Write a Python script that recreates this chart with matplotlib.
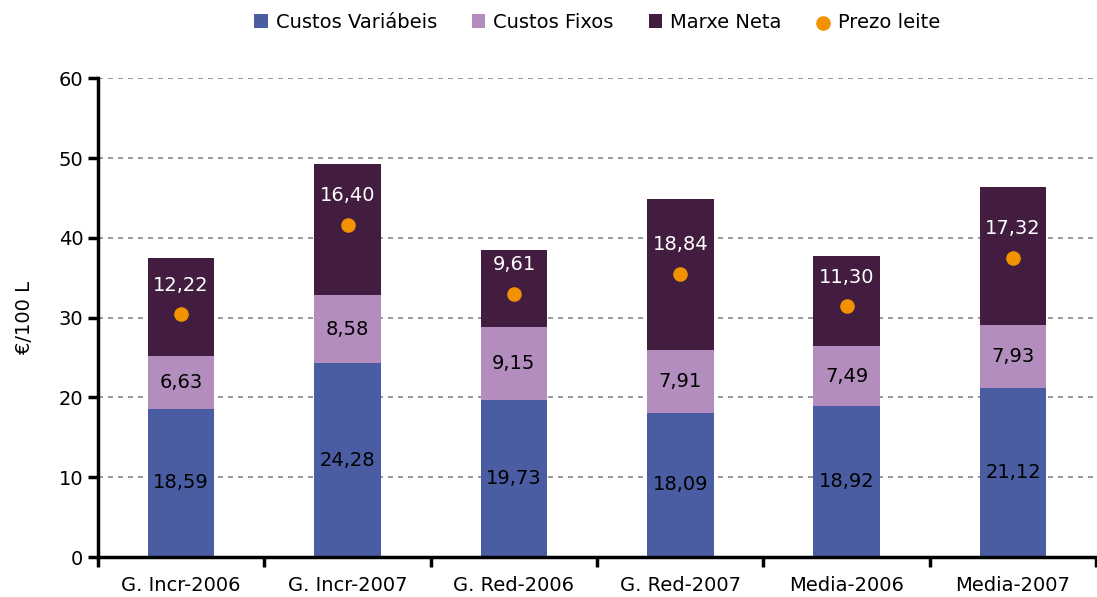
import matplotlib.pyplot as plt
import numpy as np

categories = ['G. Incr-2006', 'G. Incr-2007', 'G. Red-2006', 'G. Red-2007', 'Media-2006', 'Media-2007']
custos_variabeis = [18.59, 24.28, 19.73, 18.09, 18.92, 21.12]
custos_fixos = [6.63, 8.58, 9.15, 7.91, 7.49, 7.93]
marxe_neta = [12.22, 16.40, 9.61, 18.84, 11.30, 17.32]
prezo_leite = [30.4, 41.6, 33.0, 35.5, 31.4, 37.5]

c_var = '#4A5DA3'
c_fix = '#B28DBE'
c_mar = '#421D40'
c_pre = '#F39200'


def fmt(v):
    return ('%.2f' % v).replace('.', ',')


def main():
    plt.rcParams['font.family'] = ['DejaVu Sans']
    fs = 14

    fig = plt.figure(figsize=(10.97, 5.97), dpi=100)
    ax = fig.add_axes([0.0893, 0.067, 0.91, 0.802])

    x = np.arange(len(categories))
    w = 0.4
    b1 = np.array(custos_variabeis)
    b2 = b1 + np.array(custos_fixos)

    h1 = ax.bar(x, custos_variabeis, w, color=c_var, label='Custos Variábeis', zorder=2)
    h2 = ax.bar(x, custos_fixos, w, bottom=b1, color=c_fix, label='Custos Fixos', zorder=2)
    h3 = ax.bar(x, marxe_neta, w, bottom=b2, color=c_mar, label='Marxe Neta', zorder=2)
    h4 = ax.scatter(x, prezo_leite, s=90, color=c_pre, label='Prezo leite', zorder=3)

    for i in range(len(categories)):
        ax.text(x[i], b1[i] / 2, fmt(custos_variabeis[i]), ha='center', va='center', fontsize=fs, color='black', zorder=4)
        ax.text(x[i], b1[i] + custos_fixos[i] / 2, fmt(custos_fixos[i]), ha='center', va='center', fontsize=fs, color='black', zorder=4)
        ax.annotate(fmt(marxe_neta[i]), (x[i], prezo_leite[i]), xytext=(0, 21), textcoords='offset points',
                    ha='center', va='center', fontsize=fs, color='white', zorder=4)

    ax.set_xlim(-0.5, len(categories) - 0.5)
    ax.set_ylim(0, 60)
    ax.set_yticks(range(0, 61, 10))
    ax.set_xticks(x)
    ax.set_xticklabels(categories)
    ax.tick_params(axis='x', length=0, pad=14, labelsize=fs)
    ax.set_xticks(np.arange(-0.5, len(categories), 1), minor=True)
    ax.tick_params(axis='x', which='minor', length=7, width=2.5, direction='out')
    ax.tick_params(axis='y', length=7, width=2.5, labelsize=fs)

    ax.yaxis.grid(True, linestyle=(0, (3, 3)), color='#888888', linewidth=1.2, zorder=0)
    ax.spines['top'].set_visible(False)
    ax.spines['right'].set_visible(False)
    ax.spines['left'].set_linewidth(2.5)
    ax.spines['bottom'].set_linewidth(2.5)
    ax.set_ylabel('€/100 L', fontsize=fs, labelpad=18)

    ax.legend(handles=[h1, h2, h3, h4], loc='center', bbox_to_anchor=(0.5, 1.117), ncol=4, frameon=False,
              handlelength=0.7, handleheight=0.7, handletextpad=0.4, columnspacing=1.8, fontsize=fs)

    fig.savefig('out.png', dpi=100)


if __name__ == '__main__':
    main()
